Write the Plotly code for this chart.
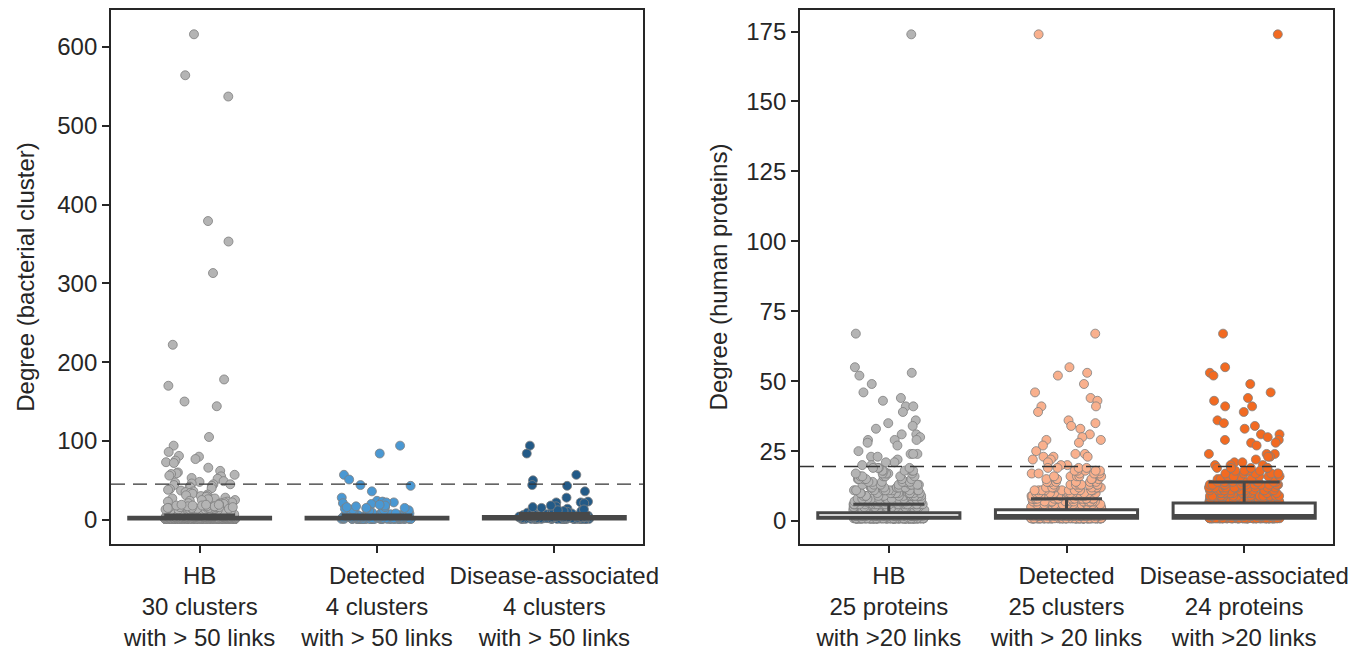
import math
import plotly.graph_objects as go
from plotly.subplots import make_subplots

# ---------------- categories / tick labels ----------------
left_categories = [
    "HB<br>30 clusters<br>with > 50 links",
    "Detected<br>4 clusters<br>with > 50 links",
    "Disease-associated<br>4 clusters<br>with > 50 links",
]
right_categories = [
    "HB<br>25 proteins<br>with >20 links",
    "Detected<br>25 clusters<br>with > 20 links",
    "Disease-associated<br>24 proteins<br>with >20 links",
]
category_positions = [0, 1, 2]

# ---------------- left panel: degree of bacterial clusters ----------------
# sparse (individually readable) values
hb_bact_sparse = [616, 564, 537, 379, 353, 313, 222, 178, 170, 150, 144, 105, 94, 86, 81,
                  80, 77, 75, 73, 72, 66, 62, 60, 59, 58, 57, 56, 55, 53, 52,
                  49, 48, 47, 46, 45, 45, 44, 43, 42, 41, 40, 39, 38, 37, 36, 35, 34,
                  33, 32, 31, 30, 30, 29, 28, 27, 27, 26, 25, 25, 24, 23, 23, 22, 22,
                  21, 21, 20, 20]
# dense region: value -> count (estimated)
hb_bact_dense_vals = [1, 2, 3, 4, 5, 6, 7, 8, 9, 10, 11, 12, 13, 14, 15, 16, 17, 18, 19]
hb_bact_dense_cnts = [180, 70, 45, 30, 22, 18, 15, 12, 10, 9, 8, 7, 6, 6, 5, 4, 4, 3, 3]

det_bact_sparse = [94, 84, 57, 51, 44, 43, 36, 28, 24, 23, 22, 22, 21, 20]
det_bact_dense_vals = [1, 2, 3, 4, 5, 6, 7, 8, 9, 10, 11, 12, 13, 14, 15, 16, 17, 18, 19]
det_bact_dense_cnts = [40, 20, 12, 8, 6, 5, 4, 4, 3, 3, 2, 2, 2, 2, 2, 2, 1, 1, 1]

dis_bact_sparse = [94, 84, 57, 50, 44, 43, 36, 28, 23, 22, 22, 21, 17, 15, 14]
dis_bact_dense_vals = [1, 2, 3, 4, 5, 6, 7, 8, 9, 10, 11, 12, 13, 16, 18]
dis_bact_dense_cnts = [30, 16, 10, 7, 5, 4, 3, 3, 3, 2, 2, 2, 1, 1, 1]

# box statistics (left)
left_q1 = [1, 1, 1]
left_median = [1, 1, 2]
left_q3 = [3, 3, 4]
left_lowerfence = [1, 1, 1]
left_upperfence = [6, 6, 8]
left_threshold = 45.3

# ---------------- right panel: degree of human proteins ----------------
hb_hum_sparse = [174, 67, 55, 53, 52, 49, 46, 44, 43, 41, 41, 39, 36, 35, 34, 33, 31, 31,
                 30, 29, 29, 29, 28, 27, 25, 24, 24, 24, 23, 23, 22, 21, 21, 20, 20]
hb_hum_dense_vals = [1, 2, 3, 4, 5, 6, 7, 8, 9, 10, 11, 12, 13, 14, 15, 16, 17, 18, 19]
hb_hum_dense_cnts = [250, 110, 70, 45, 35, 28, 22, 18, 15, 12, 10, 9, 8, 7, 6, 6, 5, 5, 4]

det_hum_sparse = [174, 67, 55, 53, 52, 49, 46, 44, 43, 41, 41, 39, 36, 35, 34, 33, 31,
                  30, 29, 29, 28, 27, 25, 24, 24, 23, 23, 23, 22, 22, 21, 20, 20]
det_hum_dense_vals = [1, 2, 3, 4, 5, 6, 7, 8, 9, 10, 11, 12, 13, 14, 15, 16, 17, 18, 19]
det_hum_dense_cnts = [150, 90, 60, 45, 35, 28, 22, 18, 15, 12, 10, 9, 8, 7, 6, 6, 5, 5, 4]

dis_hum_sparse = [174, 67, 55, 53, 52, 49, 46, 44, 43, 41, 41, 39, 36, 35, 34, 33, 31, 31,
                  30, 29, 29, 28, 28, 27, 24, 24, 24, 23, 23, 22, 21, 21, 20, 20, 20]
dis_hum_dense_vals = [1, 2, 3, 4, 5, 6, 7, 8, 9, 10, 11, 12, 13, 14, 15, 16, 17, 18, 19]
dis_hum_dense_cnts = [100, 80, 60, 50, 42, 36, 30, 25, 20, 18, 15, 13, 11, 10, 8, 7, 6, 5, 5]

right_q1 = [1, 1, 1]
right_median = [1, 2, 2]
right_q3 = [3, 4, 6.5]
right_lowerfence = [1, 1, 1]
right_upperfence = [6, 8, 14]
right_threshold = 19.5

# ---------------- styles ----------------
left_colors = ["#b4b4b4", "#4a98d3", "#235a87"]
right_colors = ["#b4b4b4", "#f9b08d", "#f26a21"]
EDGE = "#7f7f7f"
BOXLINE = "#484848"
AXCOL = "#262626"
FONT = "Liberation Sans, Arial, sans-serif"
FS = 24
JITTER_HALF = 0.2
X_RANGE = [-0.5, 2.5]
LEFT_Y_RANGE = [-30.8, 646.8]
RIGHT_Y_RANGE = [-8.2, 182.7]


def expand(sparse, vals, cnts):
    out = list(sparse)
    for v, c in zip(vals, cnts):
        out.extend([v] * c)
    return out


def strip_x(center, n, seed):
    # deterministic strip jitter (hash-style scatter of positions, not data)
    offs = []
    for k in range(n):
        h = math.sin((k + 1) * 12.9898 + seed * 78.233) * 43758.5453
        offs.append(center + ((h - math.floor(h)) - 0.5) * 2 * JITTER_HALF)
    return offs


left_data = [
    expand(hb_bact_sparse, hb_bact_dense_vals, hb_bact_dense_cnts),
    expand(det_bact_sparse, det_bact_dense_vals, det_bact_dense_cnts),
    expand(dis_bact_sparse, dis_bact_dense_vals, dis_bact_dense_cnts),
]
right_data = [
    expand(hb_hum_sparse, hb_hum_dense_vals, hb_hum_dense_cnts),
    expand(det_hum_sparse, det_hum_dense_vals, det_hum_dense_cnts),
    expand(dis_hum_sparse, dis_hum_dense_vals, dis_hum_dense_cnts),
]

fig = make_subplots(rows=1, cols=2)


def add_panel(col, data, colors, q1, med, q3, lf, uf, box_x, box_y):
    for pos, vals, c in zip(category_positions, data, colors):
        fig.add_trace(go.Scatter(
            x=strip_x(pos, len(vals), col * 3 + pos), y=vals, mode="markers",
            marker=dict(color=c, size=9, line=dict(color=EDGE, width=0.8), opacity=1),
            showlegend=False, hoverinfo="y"), row=1, col=col)
    # boxes go on an overlaid axis pair so that they are drawn above the points
    for i, pos in enumerate(category_positions):
        fig.add_trace(go.Box(
            x=[pos], q1=[q1[i]], median=[med[i]], q3=[q3[i]],
            lowerfence=[lf[i]], upperfence=[uf[i]], width=0.8, whiskerwidth=0.5,
            fillcolor="white", line=dict(color=BOXLINE, width=3), boxpoints=False,
            showlegend=False, xaxis=box_x, yaxis=box_y))


add_panel(1, left_data, left_colors,
          left_q1, left_median, left_q3, left_lowerfence, left_upperfence, "x3", "y3")
add_panel(2, right_data, right_colors,
          right_q1, right_median, right_q3, right_lowerfence, right_upperfence, "x4", "y4")

fig.add_shape(type="line", xref="x domain", yref="y", x0=0, x1=1,
              y0=left_threshold, y1=left_threshold,
              line=dict(color="#333333", width=1.3, dash="14px,8px"))
fig.add_shape(type="line", xref="x2 domain", yref="y2", x0=0, x1=1,
              y0=right_threshold, y1=right_threshold,
              line=dict(color="#333333", width=1.3, dash="14px,8px"))

axis_common = dict(showline=True, linecolor=AXCOL, linewidth=1.8, mirror=True,
                   ticks="outside", ticklen=7, tickwidth=1.5, tickcolor=AXCOL,
                   showgrid=False, zeroline=False,
                   tickfont=dict(family=FONT, size=FS, color=AXCOL))

fig.update_xaxes(**axis_common)
fig.update_xaxes(type="linear", range=X_RANGE, tickvals=category_positions,
                 ticktext=left_categories, tickangle=0, ticklabelstandoff=2, row=1, col=1)
fig.update_xaxes(type="linear", range=X_RANGE, tickvals=category_positions,
                 ticktext=right_categories, tickangle=0, ticklabelstandoff=2, row=1, col=2)
fig.update_yaxes(**axis_common)
fig.update_yaxes(range=LEFT_Y_RANGE, tickvals=[0, 100, 200, 300, 400, 500, 600],
                 title=dict(text="Degree (bacterial cluster)",
                            font=dict(family=FONT, size=FS, color=AXCOL), standoff=16),
                 row=1, col=1)
fig.update_yaxes(range=RIGHT_Y_RANGE, tickvals=[0, 25, 50, 75, 100, 125, 150, 175],
                 title=dict(text="Degree (human proteins)",
                            font=dict(family=FONT, size=FS, color=AXCOL), standoff=12),
                 row=1, col=2)

hidden = dict(visible=False, showgrid=False, zeroline=False, fixedrange=True)
fig.update_layout(
    xaxis3=dict(overlaying="x", anchor="y3", range=X_RANGE, **hidden),
    yaxis3=dict(overlaying="y", anchor="x3", range=LEFT_Y_RANGE, **hidden),
    xaxis4=dict(overlaying="x2", anchor="y4", range=X_RANGE, **hidden),
    yaxis4=dict(overlaying="y2", anchor="x4", range=RIGHT_Y_RANGE, **hidden),
)

# page body has an 8px default margin: figure is offset by (8, 8)
fig.update_layout(
    width=1356, height=642,
    margin=dict(l=103, r=31, t=2, b=106, autoexpand=False),
    paper_bgcolor="white", plot_bgcolor="white",
    boxmode="overlay", showlegend=False,
    font=dict(family=FONT, size=FS, color=AXCOL),
)
fig.update_layout(xaxis=dict(domain=[0, 532 / 1222]), xaxis2=dict(domain=[689 / 1222, 1]))

fig.write_html("out.html")
